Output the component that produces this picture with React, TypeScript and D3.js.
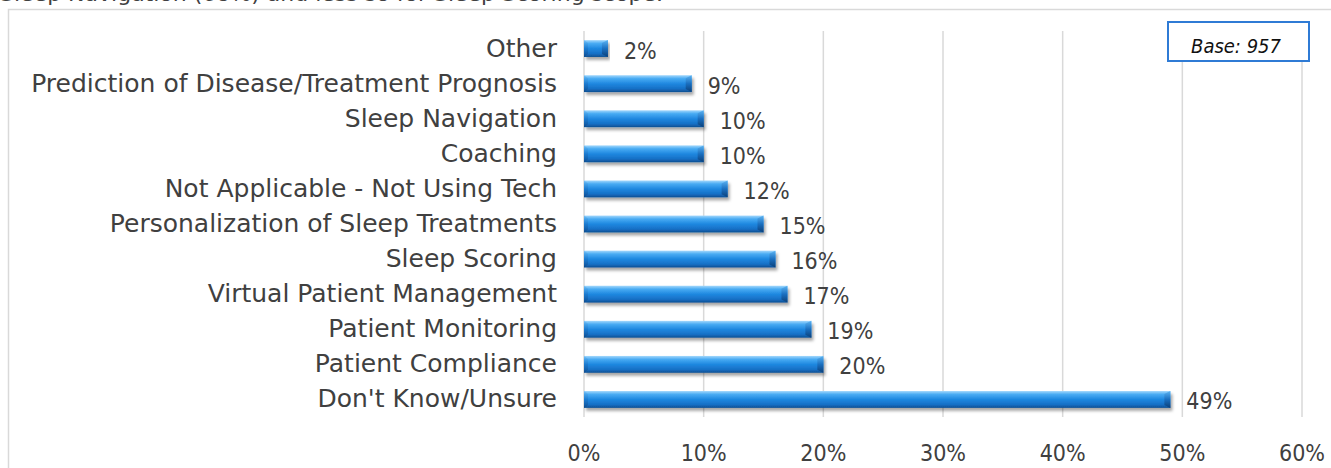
import React from "react";
import * as d3 from "d3";

const categories = [
  "Other",
  "Prediction of Disease/Treatment Prognosis",
  "Sleep Navigation",
  "Coaching",
  "Not Applicable - Not Using Tech",
  "Personalization of Sleep Treatments",
  "Sleep Scoring",
  "Virtual Patient Management",
  "Patient Monitoring",
  "Patient Compliance",
  "Don't Know/Unsure",
];
const values = [2, 9, 10, 10, 12, 15, 16, 17, 19, 20, 49];
const xTicks = [0, 10, 20, 30, 40, 50, 60];
const baseLabel = "Base: 957";
const topText = "Sleep Navigation (68%) and less so for Sleep Scoring scope.";

const W = 1331;
const H = 468;

export default function App() {
  const x = d3.scaleLinear().domain([0, 60]).range([584, 1302]);
  const y = d3
    .scaleBand<string>()
    .domain(categories)
    .range([31, 417])
    .paddingInner(0.52)
    .paddingOuter(0.26);
  const bw = y.bandwidth();
  const font = "'DejaVu Sans Condensed', 'DejaVu Sans', sans-serif";
  const catFont = "'DejaVu Sans', sans-serif";
  const textColor = "#404040";

  return (
    <svg
      width={W}
      height={H}
      style={{ position: "absolute", left: 0, top: 0, background: "#fff" }}
    >
      <defs>
        <linearGradient id="barGrad" x1="0" y1="0" x2="0" y2="1">
          <stop offset="0" stopColor="#a4d8fc" />
          <stop offset="0.2" stopColor="#48abf3" />
          <stop offset="0.5" stopColor="#1f88e0" />
          <stop offset="0.8" stopColor="#1770c6" />
          <stop offset="1" stopColor="#0e4f92" />
        </linearGradient>
        <linearGradient id="capGrad" x1="0" y1="0" x2="0" y2="1">
          <stop offset="0" stopColor="#5cb4f3" />
          <stop offset="0.5" stopColor="#1a6fc0" />
          <stop offset="1" stopColor="#0b3f78" />
        </linearGradient>
        <filter id="shadow" x="-5%" y="-30%" width="110%" height="180%">
          <feDropShadow dx="2" dy="3" stdDeviation="1.6" floodColor="#000" floodOpacity="0.35" />
        </filter>
      </defs>

      <text
        x={0}
        y={1}
        fontFamily={catFont}
        fontSize={22}
        fill={textColor}
      >
        {topText}
      </text>

      <rect
        x={8.5}
        y={9.5}
        width={1400}
        height={600}
        fill="#fff"
        stroke="#d9d9d9"
        strokeWidth={1.5}
      />

      {xTicks.map((t) => (
        <line
          key={"g" + t}
          x1={x(t)}
          x2={x(t)}
          y1={31}
          y2={417}
          stroke="#d9d9d9"
          strokeWidth={1.5}
        />
      ))}

      {categories.map((c, i) => {
        const y0 = y(c)!;
        const x0 = x(0);
        const x1 = x(values[i]);
        const cap = Math.min(6, (x1 - x0) / 3);
        return (
          <g key={c}>
            <g filter="url(#shadow)">
              <rect x={x0} y={y0} width={x1 - x0} height={bw} fill="url(#barGrad)" />
            </g>
            <polygon
              points={`${x1 - cap},${y0 + 3} ${x1},${y0} ${x1},${y0 + bw} ${x1 - cap},${y0 + bw - 3}`}
              fill="url(#capGrad)"
            />
            <polygon
              points={`${x0},${y0 + bw} ${x0 + 4},${y0 + bw - 3} ${x0 + 4},${y0 + 3} ${x0},${y0}`}
              fill="url(#capGrad)"
              opacity={0.5}
            />
            <text
              x={557}
              y={y0 + bw / 2 + 8}
              textAnchor="end"
              fontFamily={catFont}
              fontSize={25}
              fill={textColor}
            >
              {c}
            </text>
            <text
              x={x1 + 16}
              y={y0 + bw / 2 + 10}
              fontFamily={font}
              fontSize={23}
              fill={textColor}
            >
              {values[i] + "%"}
            </text>
          </g>
        );
      })}

      {xTicks.map((t) => (
        <text
          key={"t" + t}
          x={x(t)}
          y={461}
          textAnchor="middle"
          fontFamily={font}
          fontSize={23}
          fill={textColor}
        >
          {t + "%"}
        </text>
      ))}

      <rect
        x={1168}
        y={22}
        width={141}
        height={39}
        fill="#fff"
        stroke="#2f7bd5"
        strokeWidth={2}
      />
      <text
        x={1236}
        y={53}
        textAnchor="middle"
        fontFamily={font}
        fontStyle="italic"
        fontSize={20}
        fill="#111"
      >
        {baseLabel}
      </text>
    </svg>
  );
}
